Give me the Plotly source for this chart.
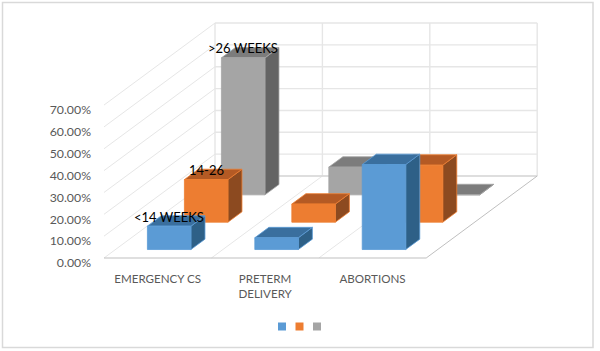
import plotly.graph_objects as go

categories = ["EMERGENCY CS", "PRETERM<br>DELIVERY", "ABORTIONS"]
series_names = ["&lt;14 WEEKS", "14-26", "&gt;26 WEEKS"]
weeks_under_14 = [10.7, 5.4, 38.9]
weeks_14_26 = [19.5, 8.3, 26.1]
weeks_over_26 = [62.7, 12.7, 0.1]
y_ticks = [0, 10, 20, 30, 40, 50, 60, 70]
y_tick_labels = ["0.00%", "10.00%", "20.00%", "30.00%", "40.00%", "50.00%", "60.00%", "70.00%"]

series_values = [weeks_under_14, weeks_14_26, weeks_over_26]
front_colors = ["#5B9BD5", "#ED7D31", "#A5A5A5"]
top_colors = ["#3A6F9E", "#B45A24", "#7C7C7C"]
side_colors = ["#2E6087", "#8C4A20", "#646464"]

W, H = 600, 351
X0, Y0 = 104.0, 258.0      # pixel of the front-left floor corner
CAT_PX = 107.4             # pixels per category
VAL_PX = 2.185             # pixels per percentage point
DEPTH_X, DEPTH_Y = 111.0, 82.0   # oblique vector of whole depth (pixels)
N_DEPTH = 3
DU = DEPTH_X / CAT_PX      # whole depth in category units
DV = DEPTH_Y / VAL_PX      # whole depth in value units
BAR_W = 0.405              # bar width, in categories
BAR_D = 0.38               # bar depth, fraction of a series row


def proj(cat, depth, val):
    """oblique projection: depth 0..1 goes front to back"""
    return cat + depth * DU, val + depth * DV


def poly(points):
    p = [proj(*q) for q in points]
    return [a for a, _ in p], [b for _, b in p]


fig = go.Figure()


def line(points, color, width):
    x, y = poly(points)
    fig.add_trace(go.Scatter(x=x, y=y, mode="lines", line=dict(color=color, width=width),
                             hoverinfo="skip", showlegend=False))


def face(points, fill, edge):
    x, y = poly(points + points[:1])
    fig.add_trace(go.Scatter(x=x, y=y, mode="lines", fill="toself", fillcolor=fill,
                             line=dict(color=edge, width=0.8), hoverinfo="skip", showlegend=False))


GRID = "#E6E6E6"
n = len(categories)
for t in y_ticks:
    line([(0, 0, t), (0, 1, t)], GRID, 1)
    line([(0, 1, t), (n, 1, t)], GRID, 1.4)
for k in range(n + 1):
    line([(k, 1, 0), (k, 1, y_ticks[-1])], GRID, 1.4)
    if 0 < k < n:
        line([(k, 0, 0), (k, 1, 0)], GRID, 1)
line([(0, 1, 0), (n, 1, 0)], "#D0D0D0", 1.2)
line([(n, 0, 0), (n, 1, 0)], "#BFBFBF", 1)
line([(0, 0, 0), (n, 0, 0)], "#BFBFBF", 1.2)

for s in reversed(range(N_DEPTH)):
    d0 = (s + (1 - BAR_D) / 2) / N_DEPTH
    d1 = (s + (1 + BAR_D) / 2) / N_DEPTH
    for c in range(n):
        v = series_values[s][c]
        a = c + (1 - BAR_W) / 2
        b = c + (1 + BAR_W) / 2
        edge = front_colors[s]
        face([(b, d0, 0), (b, d1, 0), (b, d1, v), (b, d0, v)], side_colors[s], edge)
        face([(a, d0, v), (b, d0, v), (b, d1, v), (a, d1, v)], top_colors[s], edge)
        face([(a, d0, 0), (b, d0, 0), (b, d0, v), (a, d0, v)], front_colors[s], edge)

for s in range(N_DEPTH):
    d0 = (s + (1 - BAR_D) / 2) / N_DEPTH
    lx, ly = proj(0.5, d0, series_values[s][0])
    fig.add_annotation(x=lx, y=ly, text=series_names[s], showarrow=False, yshift=9.5,
                       font=dict(family="Lato", size=13, color="#000000"))

shapes = [dict(type="rect", xref="paper", yref="paper", x0=2.5 / W, x1=593 / W,
               y0=1 - 347.5 / H, y1=1 - 2.5 / H, line=dict(color="#D9D9D9", width=1.5))]
for x_px, col in zip([278, 295.5, 313], front_colors):
    shapes.append(dict(type="rect", xref="paper", yref="paper", x0=x_px / W, x1=(x_px + 8) / W,
                       y0=1 - 330.5 / H, y1=1 - 322.5 / H, fillcolor=col, line=dict(width=0)))

fig.update_layout(
    width=W, height=H, margin=dict(l=0, r=0, t=0, b=0),
    paper_bgcolor="#FFFFFF", plot_bgcolor="#FFFFFF", showlegend=False, shapes=shapes,
    xaxis=dict(range=[-X0 / CAT_PX, (W - X0) / CAT_PX], domain=[0, 1], showgrid=False, zeroline=False,
               showline=False, tickmode="array", tickvals=[0.5, 1.5, 2.5], ticktext=categories,
               ticks="", tickfont=dict(family="Lato", size=11.6, color="#595959"), tickangle=0,
               anchor="free", position=1 - (Y0 + 12) / H),
    yaxis=dict(range=[(Y0 - H) / VAL_PX, Y0 / VAL_PX], domain=[0, 1], showgrid=False, zeroline=False,
               showline=False, tickmode="array", tickvals=y_ticks, ticktext=y_tick_labels,
               ticks="", tickfont=dict(family="Lato", size=12.3, color="#595959"),
               anchor="free", position=(X0 - 13) / W, ticklabelshift=5),
)
fig.write_html("out.html", config=dict(displayModeBar=False),
               post_script="document.body.style.margin='0';document.body.style.overflow='hidden';")
